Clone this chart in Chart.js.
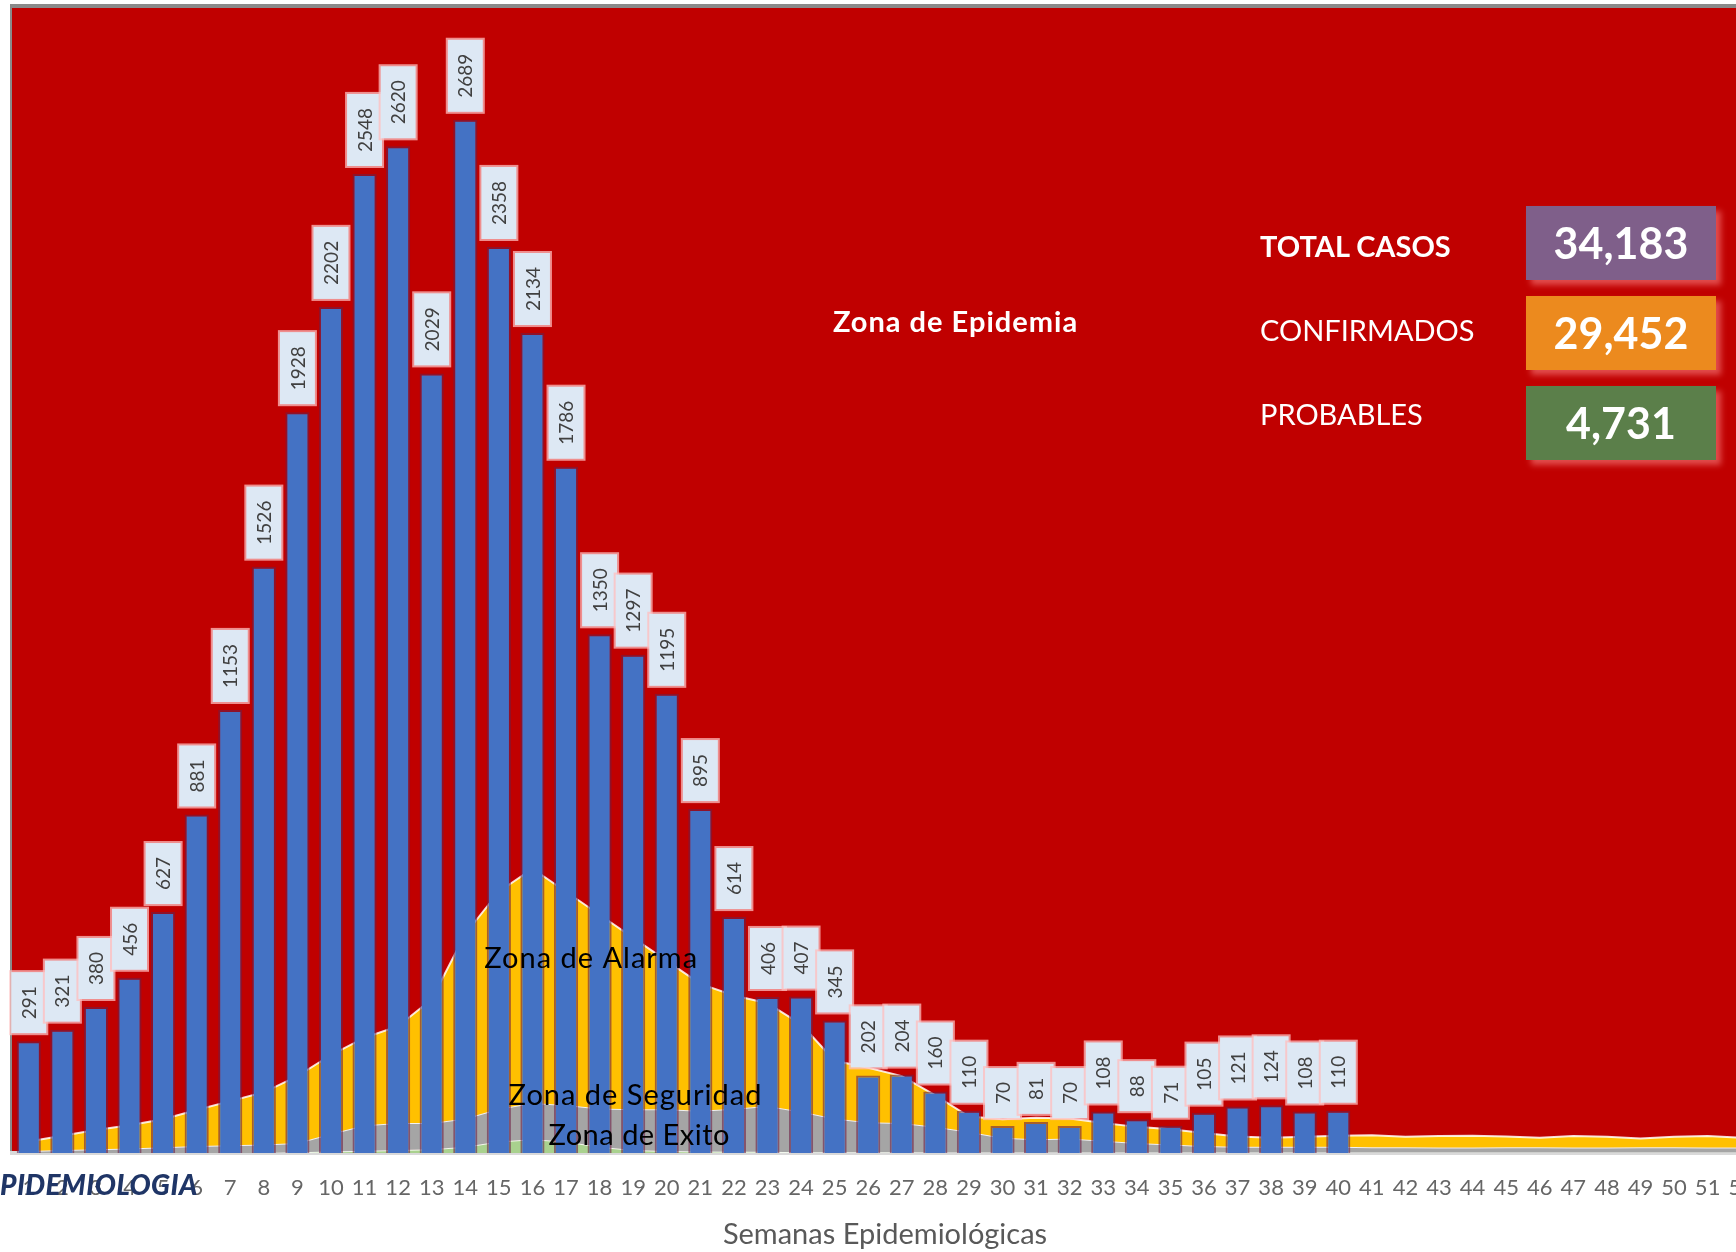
<!DOCTYPE html>
<html>
<head>
<meta charset="utf-8">
<script src="https://cdn.jsdelivr.net/npm/chart.js@4.4.1/dist/chart.umd.min.js"></script>
<style>
  html, body { margin: 0; padding: 0; background: #fff; overflow: hidden; }
  body { width: 1736px; height: 1252px; position: relative; font-family: Lato, sans-serif; }
  #chart { position: absolute; left: 0; top: 0; }
  .lbl { position: absolute; left: 1260px; color: #fff; font-size: 29px; line-height: 34px; white-space: nowrap; }
  .box { position: absolute; left: 1526px; width: 190px; height: 74px; color: #fff; font-weight: bold;
         font-size: 43px; line-height: 74px; text-align: center; box-shadow: 5px 5px 6px rgba(255,140,140,0.55); }
  #marca { position: absolute; left: 0; top: 1167px; font-size: 28px; font-weight: 900; font-style: italic;
           color: #1f3566; letter-spacing: 0.4px; white-space: nowrap; }
</style>
</head>
<body>
<canvas id="chart" width="1758" height="1252"></canvas>

<div class="lbl" style="top:229px;font-weight:bold">TOTAL CASOS</div>
<div class="lbl" style="top:313px">CONFIRMADOS</div>
<div class="lbl" style="top:397px">PROBABLES</div>
<div class="box" style="top:206px;background:#7f5f8a">34,183</div>
<div class="box" style="top:296px;background:#ec8a1e">29,452</div>
<div class="box" style="top:386px;background:#5b7f4a">4,731</div>
<div id="marca">PIDEMIOLOGIA</div>

<script>
const semanas = ["1","2","3","4","5","6","7","8","9","10","11","12","13","14","15","16","17","18","19","20",
  "21","22","23","24","25","26","27","28","29","30","31","32","33","34","35","36","37","38","39","40",
  "41","42","43","44","45","46","47","48","49","50","51","52"]

const casos = [291, 321, 380, 456, 627, 881, 1153, 1526, 1928, 2202,
  2548, 2620, 2029, 2689, 2358, 2134, 1786, 1350, 1297, 1195,
  895, 614, 406, 407, 345, 202, 204, 160, 110, 70,
  81, 70, 108, 88, 71, 105, 121, 124, 108, 110,
  null, null, null, null, null, null, null, null, null, null, null, null]

// upper limit of each zone (cumulative level)
const zonaExito = [0, 0, 0, 0, 0, 0, 0, 0, 2, 4,
  6, 8, 10, 16, 30, 36, 30, 16, 8, 5,
  4, 3, 3, 2, 2, 2, 2, 1, 1, 1,
  1, 1, 1, 1, 1, 1, 1, 1, 1, 1,
  1, 1, 1, 1, 1, 1, 1, 1, 1, 1, 1, 1]

const zonaSeguridad = [5, 8, 10, 12, 15, 18, 20, 22, 26, 50,
  72, 78, 78, 90, 115, 130, 125, 116, 114, 114,
  110, 115, 122, 108, 90, 80, 78, 68, 55, 40,
  36, 38, 32, 26, 22, 18, 16, 16, 16, 16,
  15, 15, 14, 14, 15, 15, 14, 14, 15, 15, 14, 14]

const zonaAlarma = [30, 45, 60, 72, 88, 112, 135, 158, 200, 255,
  300, 330, 400, 570, 680, 740, 680, 620, 560, 500,
  440, 410, 390, 335, 240, 222, 200, 150, 95, 88,
  92, 90, 78, 68, 62, 52, 43, 40, 42, 45,
  46, 42, 44, 45, 43, 40, 44, 42, 38, 42, 44, 40]

const zonaTextos = ["Zona de Epidemia", "Zona de Alarma", "Zona de Seguridad", "Zona de Exito"]
const zonaTextoPos = [[27.6, 2162], [16.75, 505], [18.07, 148], [18.18, 44]]

const ctx = document.getElementById("chart")

const fondoRojo = {
  id: "fondoRojo",
  beforeDraw(chart) {
    const { ctx, chartArea: a } = chart
    ctx.save()
    ctx.fillStyle = "#c00000"
    ctx.fillRect(a.left, a.top, a.right - a.left, a.bottom - a.top)
    ctx.fillStyle = "#8a8a8a"
    ctx.fillRect(a.left - 2, a.top - 4, a.right - a.left + 2, 4)
    ctx.fillRect(a.left - 2, a.top - 4, 2, a.bottom - a.top + 4)
    ctx.restore()
  }
}

const etiquetas = {
  id: "etiquetas",
  afterDatasetsDraw(chart) {
    const c = chart.ctx
    const meta = chart.getDatasetMeta(0)
    c.save()
    c.font = "19px Lato"
    meta.data.forEach((bar, i) => {
      const v = casos[i]
      if (v == null) return
      const text = String(v)
      const tw = c.measureText(text).width
      const w = 35
      const h = tw + 28
      const y = bar.y - 8 - h
      const x = bar.x - w / 2
      c.fillStyle = "rgba(255,190,190,0.75)"
      c.fillRect(x - 2, y - 2, w + 4, h + 4)
      c.fillStyle = "#dde8f4"
      c.fillRect(x, y, w, h)
      c.save()
      c.translate(bar.x, y + h / 2)
      c.rotate(-Math.PI / 2)
      c.textAlign = "center"
      c.textBaseline = "middle"
      c.fillStyle = "#404040"
      c.fillText(text, 0, 1)
      c.restore()
    })

    const xs = chart.scales.x
    const ys = chart.scales.y
    c.textAlign = "center"
    c.textBaseline = "middle"
    zonaTextos.forEach((t, i) => {
      const [px, py] = zonaTextoPos[i]
      if (i === 0) {
        c.font = "bold 29px Lato"
        c.fillStyle = "#ffffff"
        c.letterSpacing = "1px"
      } else {
        c.font = "29px Lato"
        c.fillStyle = "#000000"
        c.letterSpacing = i === 3 ? "0.5px" : "1px"
      }
      c.fillText(t, xs.getPixelForValue(px), ys.getPixelForValue(py))
    })
    c.letterSpacing = "0px"
    c.restore()
  }
}

const zona = (label, data, color, fill, order) => ({
  type: "line",
  label,
  data,
  backgroundColor: color,
  borderColor: "rgba(255,255,255,0.85)",
  borderWidth: 2,
  pointRadius: 0,
  fill,
  order
})

new Chart(ctx, {
  type: "bar",
  data: {
    labels: semanas,
    datasets: [
      {
        label: "Casos",
        data: casos,
        backgroundColor: "#4472c4",
        borderColor: "rgba(110,30,70,0.6)",
        borderWidth: 2,
        barPercentage: 0.72,
        categoryPercentage: 1,
        order: 0
      },
      zona("Zona de Exito", zonaExito, "#a9d18e", "origin", 3),
      zona("Zona de Seguridad", zonaSeguridad, "#a5a5a5", "-1", 2),
      zona("Zona de Alarma", zonaAlarma, "#ffc000", "-1", 1)
    ]
  },
  options: {
    responsive: false,
    animation: false,
    layout: { padding: { left: 12, top: 8, right: 0, bottom: 0 } },
    plugins: {
      legend: { display: false },
      tooltip: { enabled: false }
    },
    scales: {
      x: {
        offset: true,
        grid: { display: false, drawTicks: false },
        border: { display: true, color: "#d9d9d9", width: 4 },
        ticks: { color: "#666666", font: { family: "Lato", size: 22 }, padding: 22, autoSkip: false, maxRotation: 0 },
        title: { display: true, text: "Semanas Epidemiológicas", color: "#595959",
                 font: { family: "Lato", size: 29 }, padding: { top: 0, bottom: 0 } },
        afterFit(scale) {
          scale.height = 99
          scale.paddingLeft = 0
          scale.paddingRight = 0
        }
      },
      y: {
        display: false,
        min: 0,
        max: 2980
      }
    }
  },
  plugins: [fondoRojo, etiquetas]
})
</script>
</body>
</html>
